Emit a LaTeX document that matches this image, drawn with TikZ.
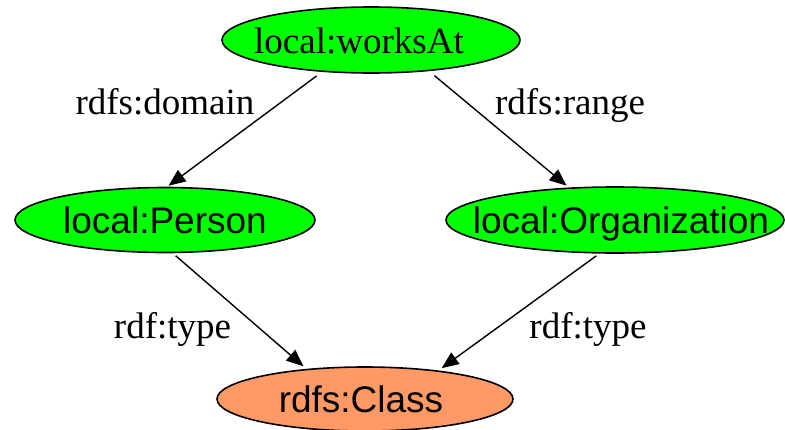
\documentclass[tikz,border=0pt]{standalone}
\usepackage{fontspec}
\setmainfont{Liberation Serif}
\newfontfamily\arialf{Liberation Sans}
\usetikzlibrary{shapes.geometric,arrows.meta}
\definecolor{nodegreen}{RGB}{0,255,0}
\definecolor{nodeorange}{RGB}{255,153,102}
\newcommand{\ctext}[2]{\makebox[0pt]{\hspace*{#1}#2}}
\begin{document}
\begin{tikzpicture}[x=1pt,y=-1pt,
  ell/.style={ellipse,draw=black,line width=1.6pt,inner sep=0pt,outer sep=0pt,
    text height=27pt,text depth=0pt,font=\fontsize{37}{40}\selectfont},
  greenell/.style={ell,fill=nodegreen},
  orangeell/.style={ell,fill=nodeorange},
  sansfont/.style={font=\arialf\fontsize{37}{40}\selectfont},
  lbl/.style={anchor=base,inner sep=0pt,font=\fontsize{37}{40}\selectfont},
  conn/.style={line width=1.4pt,-{Triangle[length=17pt,width=14pt]}}]
\useasboundingbox (0,0) rectangle (785,429);
\node[greenell,minimum width=298pt,minimum height=66pt] (w) at (371,40) {\ctext{-24pt}{local:worksAt}};
\node[greenell,sansfont,minimum width=300pt,minimum height=65pt] (p) at (165,220) {\ctext{0pt}{local:Person}};
\node[greenell,sansfont,minimum width=338pt,minimum height=66pt] (o) at (615,220) {\ctext{12pt}{local:Organization}};
\node[orangeell,sansfont,minimum width=296pt,minimum height=64pt] (c) at (365,399) {\ctext{-8pt}{rdfs:Class}};
\draw[conn,shorten <=8pt,shorten >=3pt] (w.213.7) -- (p.88);
\draw[conn,shorten <=8pt,shorten >=4pt] (w.332) -- (o.145);
\draw[conn,shorten <=5pt,shorten >=5pt] (p.282) -- (c.153);
\draw[conn,shorten <=5pt,shorten >=5pt] (o.246.6) -- (c.21.9);
\node[lbl] (ld) at (165,114) {rdfs:domain};
\node[lbl] (lr) at (570,114) {rdfs:range};
\node[lbl] (lt1) at (172.5,338) {rdf:type};
\node[lbl] (lt2) at (588,338) {rdf:type};
\end{tikzpicture}
\end{document}
